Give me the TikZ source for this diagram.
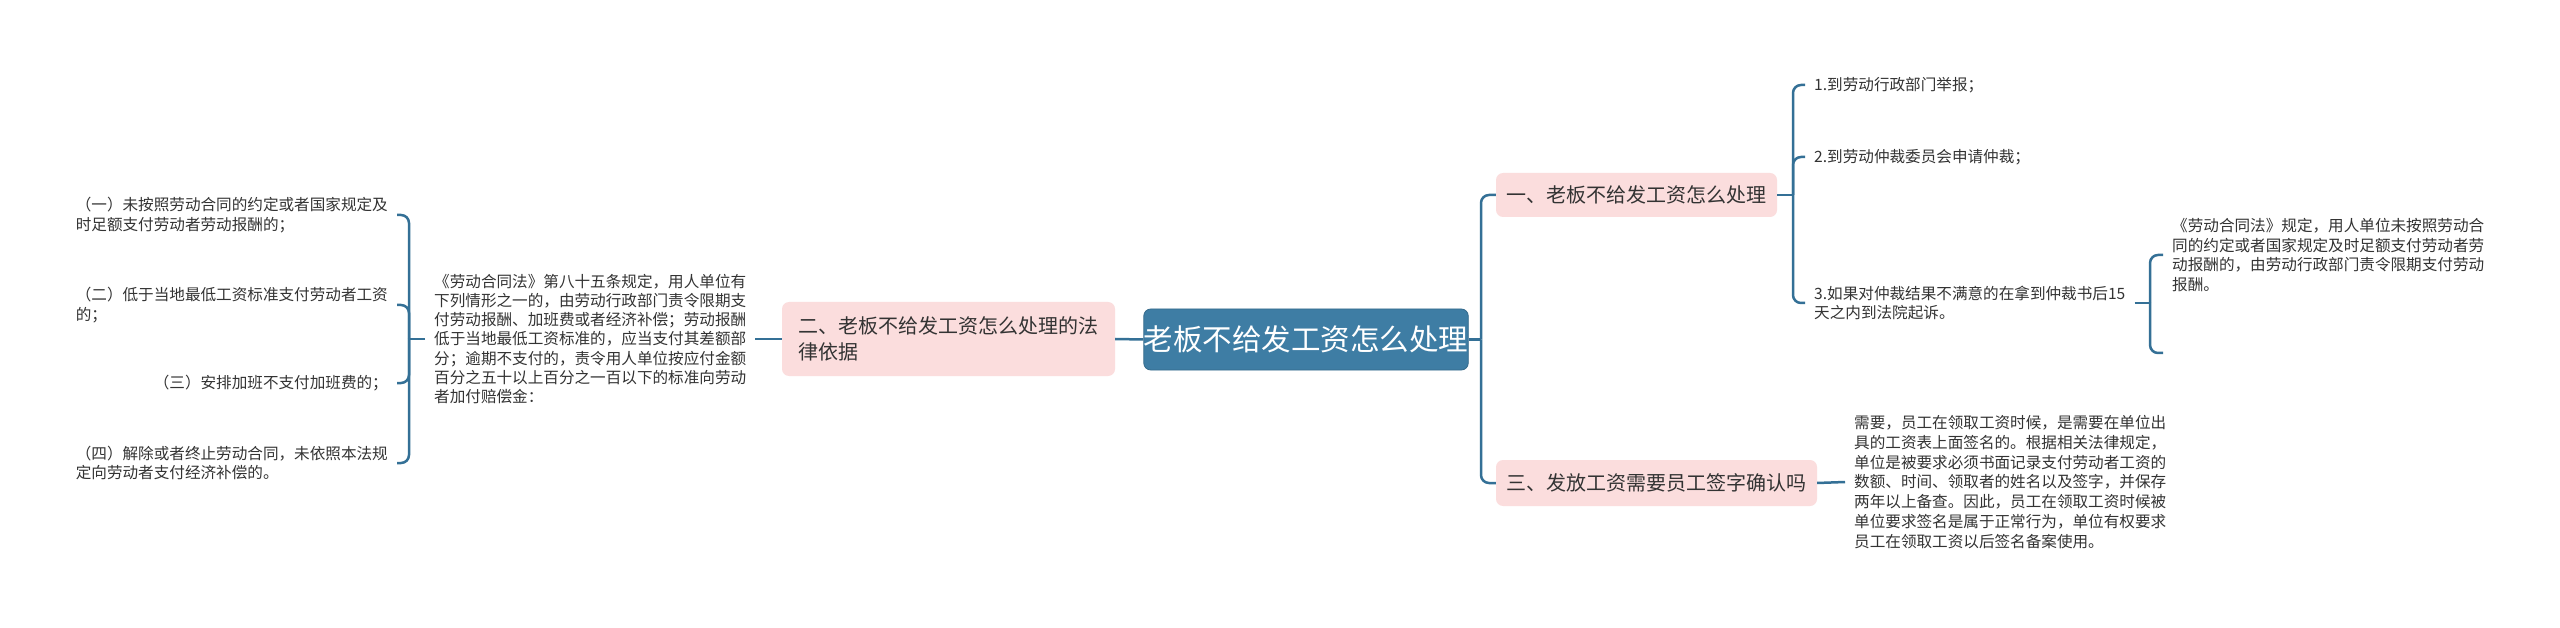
\documentclass[tikz,border=0pt]{standalone}
\usepackage{fontspec}
\setmainfont{Noto Sans CJK SC}
\definecolor{linec}{RGB}{52,112,150}
\definecolor{mainc}{RGB}{62,125,164}
\definecolor{pinkc}{RGB}{251,221,221}
\definecolor{txtc}{RGB}{51,51,51}
\tikzset{
  conn/.style={draw=linec, line width=2.5pt},
  bracket/.style={conn, rounded corners=8pt},
  rootbox/.style={fill=mainc, draw=mainc!85!black, line width=0.8pt, rounded corners=7pt, text=white,
    font=\fontsize{29.5}{36}\selectfont, minimum width=322pt, minimum height=61pt, inner sep=0pt},
  topic/.style={fill=pinkc, rounded corners=7pt, text=txtc, align=left,
    font=\fontsize{20}{26}\selectfont, inner sep=0pt},
  leaf/.style={text=txtc, align=left, font=\fontsize{15.6}{19.8}\selectfont, inner xsep=9pt, inner ysep=2pt},
}
\begin{document}
\begin{tikzpicture}[x=1pt, y=-1pt]
\useasboundingbox[fill=white] (0,0) rectangle (2560,628);

% root
\node[rootbox] (root) at (1306,339.5) {老板不给发工资怎么处理};

% main topics
\node[topic, minimum width=333pt, minimum height=74pt] (law) at (948.5,339) {二、老板不给发工资怎么处理的法\\律依据};
\node[topic, minimum width=281pt, minimum height=44pt] (t1) at (1636.5,195) {一、老板不给发工资怎么处理};
\node[topic, minimum width=321pt, minimum height=46pt] (t3) at (1656.5,483) {三、发放工资需要员工签字确认吗};

% left side
\node[leaf, anchor=west, font=\fontsize{15.6}{19.3}\selectfont] (lawtext) at (425,339) {《劳动合同法》第八十五条规定，用人单位有\\下列情形之一的，由劳动行政部门责令限期支\\付劳动报酬、加班费或者经济补偿；劳动报酬\\低于当地最低工资标准的，应当支付其差额部\\分；逾期不支付的，责令用人单位按应付金额\\百分之五十以上百分之一百以下的标准向劳动\\者加付赔偿金：};
\node[leaf, anchor=east] (l1) at (397,215) {（一）未按照劳动合同的约定或者国家规定及\\时足额支付劳动者劳动报酬的；};
\node[leaf, anchor=east] (l2) at (397,305) {（二）低于当地最低工资标准支付劳动者工资\\的；};
\node[leaf, anchor=east] (l3) at (397,383) {（三）安排加班不支付加班费的；};
\node[leaf, anchor=east] (l4) at (397,463) {（四）解除或者终止劳动合同，未依照本法规\\定向劳动者支付经济补偿的。};

% right side, topic 1
\node[leaf, anchor=west] (r1) at (1805,85) {1.到劳动行政部门举报；};
\node[leaf, anchor=west] (r2) at (1805,157) {2.到劳动仲裁委员会申请仲裁；};
\node[leaf, anchor=west] (r3) at (1805,303) {3.如果对仲裁结果不满意的在拿到仲裁书后15\\天之内到法院起诉。};
\node[leaf, anchor=west] (r3a) at (2163,255) {《劳动合同法》规定，用人单位未按照劳动合\\同的约定或者国家规定及时足额支付劳动者劳\\动报酬的，由劳动行政部门责令限期支付劳动\\报酬。};

% right side, topic 3
\node[leaf, anchor=west] (r4) at (1845,482) {需要，员工在领取工资时候，是需要在单位出\\具的工资表上面签名的。根据相关法律规定，\\单位是被要求必须书面记录支付劳动者工资的\\数额、时间、领取者的姓名以及签字，并保存\\两年以上备查。因此，员工在领取工资时候被\\单位要求签名是属于正常行为，单位有权要求\\员工在领取工资以后签名备案使用。};

% trunk points
\coordinate (tc) at (1481,339.5);
\coordinate (tl) at (409,339);
\coordinate (t1r) at (1793,195);
\coordinate (t3r) at (2150,303);
\coordinate (r3b) at (2163,353);

% connectors
\draw[conn] (root.west) -- (law.east);
\draw[conn] (law.west) -- (lawtext.east);
\draw[conn] (lawtext.west) -- (tl);
\foreach \n in {l1,l2,l3,l4} \draw[bracket] (tl) |- (\n.east);

\draw[conn] (root.east) -- (tc);
\draw[bracket] (tc) |- (t1.west);
\draw[bracket] (tc) |- (t3.west);

\draw[conn] (t1.east) -- (t1r);
\foreach \n in {r1,r2,r3} \draw[bracket] (t1r) |- (\n.west);

\draw[conn] (r3.east) -- (t3r);
\draw[bracket] (t3r) |- (r3a.west);
\draw[bracket] (t3r) |- (r3b);

\draw[conn] (t3.east) -- (r4.west);
\end{tikzpicture}
\end{document}
